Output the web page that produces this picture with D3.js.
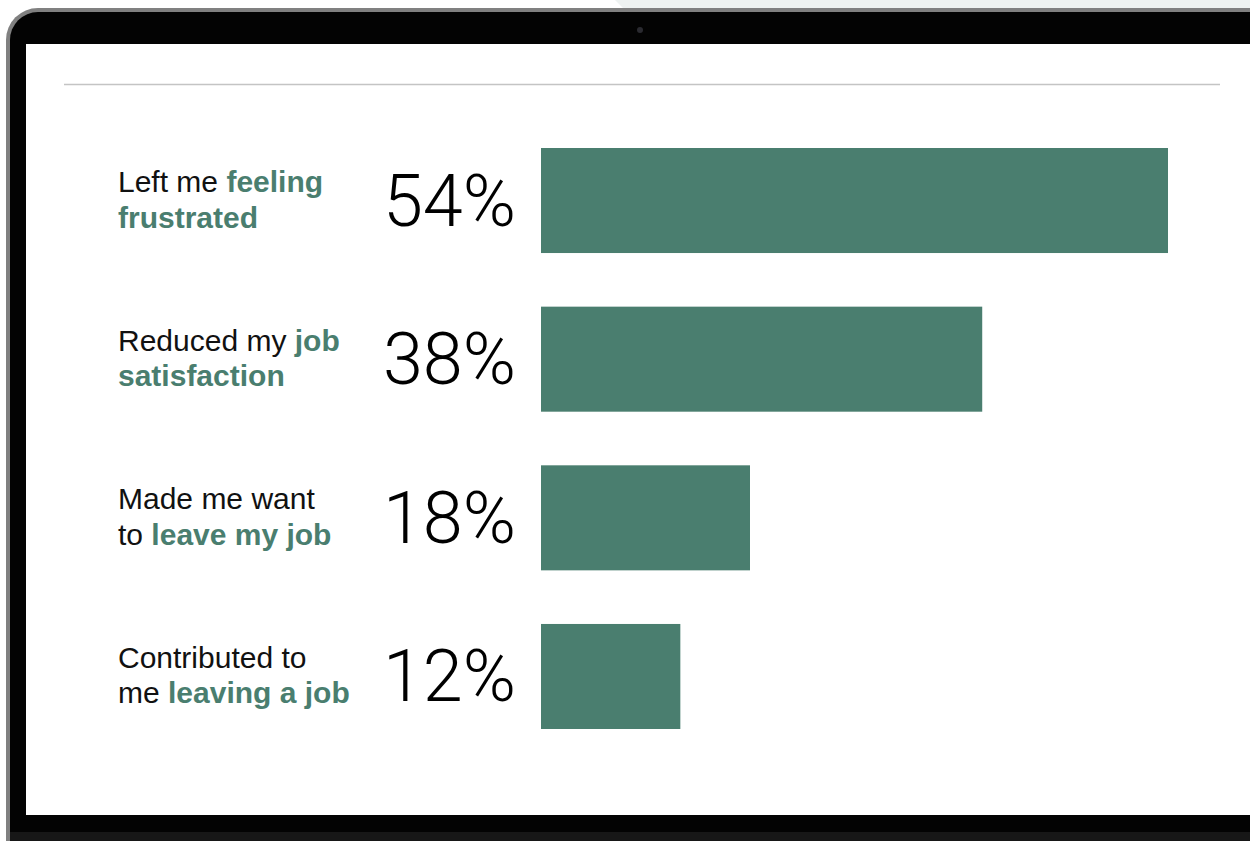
<!DOCTYPE html>
<html>
<head>
<meta charset="utf-8">
<script src="https://cdn.jsdelivr.net/npm/d3@7"></script>
<style>
  html, body { margin: 0; padding: 0; background: #fff; overflow: hidden; }
  svg { display: block; }
</style>
</head>
<body>
<svg id="chart"></svg>
<script>
// data
const leadText = ['Left me ', 'Reduced my ', 'Made me want\nto ', 'Contributed to\nme '];
const accentText = ['feeling\nfrustrated', 'job\nsatisfaction', 'leave my job', 'leaving a job'];
const values = [54, 38, 18, 12];

const width = 1250, height = 841;
const green = '#4a7e6f';

const svg = d3.select('#chart')
    .attr('width', width)
    .attr('height', height);

// laptop frame
const frame = svg.append('g').attr('class', 'frame');
frame.append('path')
    .attr('d', 'M615,0 L1250,0 L1250,10 L625,10 Z')
    .attr('fill', '#eef2f1');
frame.append('rect')
    .attr('x', 6).attr('y', 8)
    .attr('width', 1290).attr('height', 900)
    .attr('rx', 32)
    .attr('fill', '#808080');
frame.append('rect')
    .attr('x', 10).attr('y', 12)
    .attr('width', 1290).attr('height', 900)
    .attr('rx', 28)
    .attr('fill', '#030303');
frame.append('rect')
    .attr('x', 10).attr('y', 832)
    .attr('width', 1250).attr('height', 10)
    .attr('fill', '#171717');
frame.append('circle')
    .attr('cx', 640).attr('cy', 30).attr('r', 3)
    .attr('fill', '#2a2a30');
frame.append('rect')
    .attr('x', 26).attr('y', 44)
    .attr('width', 1230).attr('height', 771)
    .attr('fill', '#ffffff');

// top rule
svg.append('line')
    .attr('x1', 64).attr('x2', 1220)
    .attr('y1', 84.5).attr('y2', 84.5)
    .attr('stroke', '#c4c4c4')
    .attr('stroke-width', 1.3);

// scales
const x = d3.scaleLinear()
    .domain([0, 54])
    .range([541, 1168]);

const y = d3.scaleBand()
    .domain(d3.range(values.length))
    .range([148, 729])
    .paddingInner(0.338)
    .paddingOuter(0);

const rows = values.map((v, i) => ({ i, v, lead: leadText[i], accent: accentText[i] }));

// bars
svg.append('g')
    .attr('class', 'bars')
    .selectAll('rect')
    .data(rows)
    .enter()
    .append('rect')
        .attr('x', x(0))
        .attr('y', d => y(d.i))
        .attr('width', d => x(d.v) - x(0))
        .attr('height', y.bandwidth())
        .attr('fill', green);

// percentages
svg.append('g')
    .attr('class', 'values')
    .selectAll('text')
    .data(rows)
    .enter()
    .append('text')
        .attr('x', 516)
        .attr('y', d => y(d.i) + y.bandwidth() / 2 + 25)
        .attr('text-anchor', 'end')
        .attr('fill', '#000')
        .style('font-family', 'Roboto, "Liberation Sans", sans-serif')
        .style('font-weight', 300)
        .style('font-size', '72px')
        .text(d => `${d.v}%`);

// category labels, black lead words then bold green words
const labels = svg.append('g')
    .attr('class', 'labels')
    .selectAll('text')
    .data(rows)
    .enter()
    .append('text')
        .attr('x', 118)
        .attr('y', d => y(d.i) + y.bandwidth() / 2 - 8.5)
        .style('font-family', '"Liberation Sans", Arial, sans-serif')
        .style('font-size', '30px');

labels.each(function(d) {
    const t = d3.select(this);
    // split the two strings into word runs over two lines
    const pieces = [];
    d.lead.split('\n').forEach((s, k) => pieces.push({ s, bold: false, br: k > 0 }));
    d.accent.split('\n').forEach((s, k) => pieces.push({ s, bold: true, br: k > 0 }));
    pieces.forEach(p => {
        if (p.s === '' && !p.br) return;
        const span = t.append('tspan')
            .text(p.s)
            .attr('fill', p.bold ? green : '#111')
            .style('font-weight', p.bold ? 700 : 400);
        if (p.br) span.attr('x', 118).attr('dy', 35.5);
    });
});
</script>
</body>
</html>
